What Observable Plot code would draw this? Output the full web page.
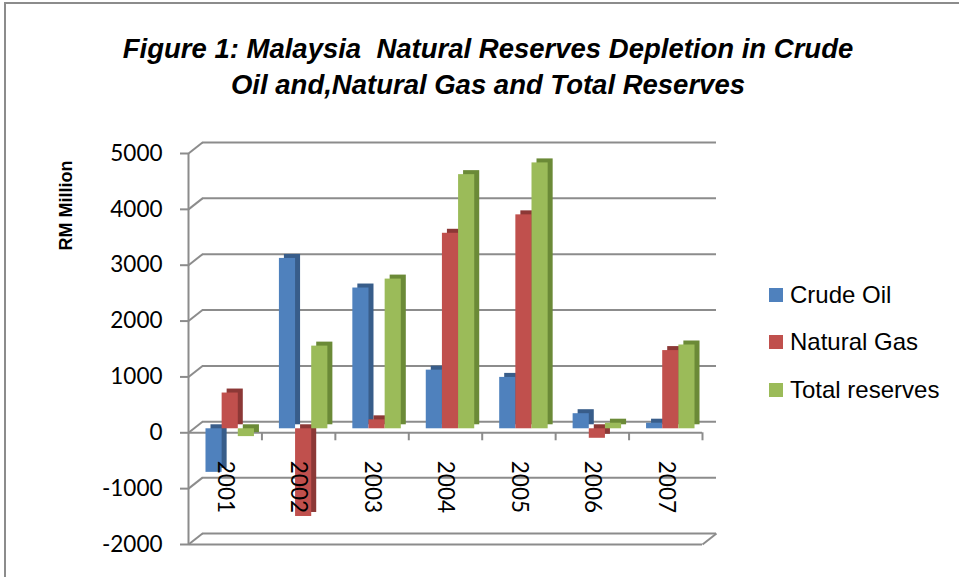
<!DOCTYPE html>
<html>
<head>
<meta charset="utf-8">
<script src="https://cdn.jsdelivr.net/npm/d3@7"></script>
<script src="https://cdn.jsdelivr.net/npm/@observablehq/plot@0.6"></script>
<style>
  html, body { margin: 0; padding: 0; background: #fff; }
  #fig { position: relative; width: 959px; height: 577px; overflow: hidden; font-family: "Liberation Sans", Arial, sans-serif; }
  #frame { position: absolute; left: 4px; top: 2px; width: 1200px; height: 1200px; border-top: 2px solid #8c8c8c; border-left: 2px solid #8c8c8c; }
  #title { position: absolute; left: 0; top: 31px; width: 976px; text-align: center; font-weight: bold; font-style: italic; font-size: 27.5px; line-height: 36px; color: #000; }
  #chart { position: absolute; left: 0; top: 120px; }
  #legend { position: absolute; left: 769px; top: 271px; }
  .item { display: flex; align-items: center; height: 47.5px; font-size: 24px; color: #000; }
  .sw { width: 14px; height: 14px; margin-right: 7px; }
</style>
</head>
<body>
<div id="fig">
  <div id="frame"></div>
  <div id="title">Figure 1: Malaysia&nbsp; Natural Reserves Depletion in Crude<br>Oil and,Natural Gas and Total Reserves</div>
  <div id="chart"></div>
  <div id="legend"></div>
</div>
<script>
const years = ["2001", "2002", "2003", "2004", "2005", "2006", "2007"];
const seriesNames = ["Crude Oil", "Natural Gas", "Total reserves"];
const crudeOil = [-780, 3050, 2520, 1050, 920, 270, 100];
const naturalGas = [640, -1570, 160, 3500, 3830, -170, 1400];
const totalReserves = [-140, 1480, 2680, 4550, 4760, 100, 1500];
const yTicks = [-2000, -1000, 0, 1000, 2000, 3000, 4000, 5000];
const frontColors = ["#4F81BD", "#C0504D", "#9BBB59"];
const sideColors = ["#385D8A", "#8C3836", "#6B8A37"];

const seriesValues = [crudeOil, naturalGas, totalReserves];
const rows = seriesValues.map((vals, j) => years.map((year, i) => ({year, i, j, value: vals[i]})));

const W = 959, H = 457, mL = 188, mR = 257, mT = 33, mB = 33;
const pxX = (W - mL - mR) / 7;
const pxY = (H - mT - mB) / 7000;
const DX = 14 / pxX, DY = 11 / pxY;   // wall depth in data units
const TICK = 8 / pxY;
const grid = "#8c8c8c";
const barW = 0.22, gStart = 0.17;

const marks = [
  // back wall gridlines
  Plot.ruleY(yTicks, {x1: () => 0, x2: () => 7, dx: 14, dy: -11, stroke: grid, strokeWidth: 2}),
  // left wall diagonals
  Plot.link(yTicks, {x1: () => 0, y1: d => d, x2: () => DX, y2: d => d + DY, stroke: grid, strokeWidth: 2}),
  // floor front + right diagonal
  Plot.ruleY([-2000], {x1: () => 0, x2: () => 7, stroke: grid, strokeWidth: 2}),
  Plot.link([-2000], {x1: () => 7, y1: d => d, x2: () => 7 + DX, y2: d => d + DY, stroke: grid, strokeWidth: 2}),
  // front axis line at zero and category ticks
  Plot.ruleY([0], {x1: () => 0, x2: () => 7, stroke: grid, strokeWidth: 2}),
  Plot.ruleX(d3.range(1, 8), {y1: () => 0, y2: () => -TICK, stroke: grid, strokeWidth: 2}),
  // vertical axis line
  Plot.ruleX([0], {y1: () => -2000, y2: () => 5000, stroke: grid, strokeWidth: 2}),
  Plot.axisY(yTicks, {label: null, tickSize: 8, tickPadding: 18, stroke: grid, strokeWidth: 2, tickFormat: d => String(d), fontSize: 22.5, fontFamily: "Lato, sans-serif", fill: "#000"}),
];
rows.forEach((data, j) => {
  const x1 = d => d.i + gStart + j * barW;
  const x2 = d => d.i + gStart + (j + 1) * barW;
  marks.push(Plot.rect(data, {x1, x2, y1: () => 0, y2: "value", fill: sideColors[j], dx: 10, dy: -8}));
  marks.push(Plot.rect(data, {x1, x2, y1: () => 0, y2: "value", fill: frontColors[j], dx: 5, dy: -4}));
});
marks.push(Plot.text(years, {x: (d, i) => i + 0.5, y: () => 0, dy: 28, rotate: 90, textAnchor: "start", lineAnchor: "middle", fontSize: 22.5, fontFamily: "Lato, sans-serif", fill: "#000"}));
marks.push(Plot.text(["RM Million"], {frameAnchor: "top-left", dx: 66 - mL, dy: 52, rotate: -90, textAnchor: "middle", lineAnchor: "middle", fontSize: 18, fontWeight: "bold", fontFamily: "'Liberation Sans', Arial, sans-serif", fill: "#000"}));

const chart = Plot.plot({
  width: W, height: H,
  marginLeft: mL, marginRight: mR, marginTop: mT, marginBottom: mB,
  x: {domain: [0, 7], axis: null},
  y: {domain: [-2000, 5000], axis: null},
  style: {fontFamily: "Lato, 'Liberation Sans', sans-serif", background: "transparent", overflow: "visible"},
  marks
});
document.getElementById("chart").appendChild(chart);

const legend = document.getElementById("legend");
seriesNames.forEach((name, j) => {
  const item = document.createElement("div");
  item.className = "item";
  const sw = document.createElement("div");
  sw.className = "sw";
  sw.style.background = frontColors[j];
  const label = document.createElement("span");
  label.textContent = name;
  item.appendChild(sw);
  item.appendChild(label);
  legend.appendChild(item);
});
</script>
</body>
</html>
